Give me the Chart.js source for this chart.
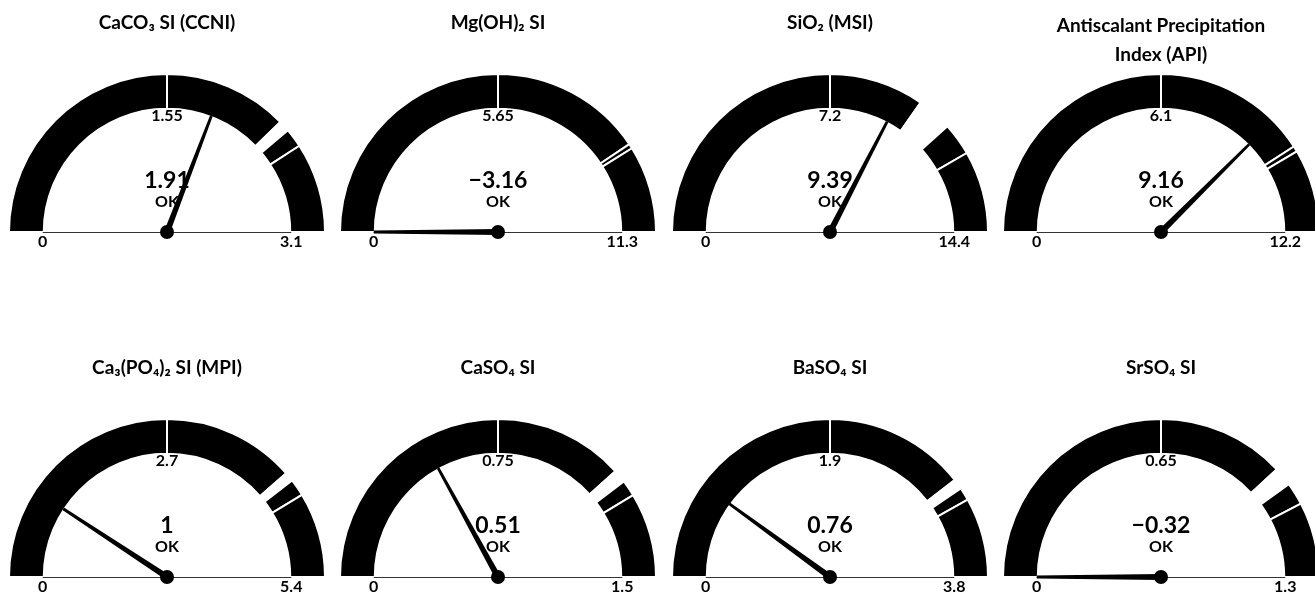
<!DOCTYPE html>
<html>
<head>
<meta charset="utf-8">
<title>Scaling indices</title>
<script src="https://cdn.jsdelivr.net/npm/chart.js@4.4.1/dist/chart.umd.min.js"></script>
<style>
  html, body { margin: 0; padding: 0; background: #fff; overflow: hidden; width: 1315px; height: 595px; }
  canvas.gauge { position: absolute; }
</style>
</head>
<body>
<script>
// ---- data ---------------------------------------------------------------
const gaugeTitles = [
  ["CaCO₃ SI (CCNI)"],
  ["Mg(OH)₂ SI"],
  ["SiO₂ (MSI)"],
  ["Antiscalant Precipitation", "Index (API)"],
  ["Ca₃(PO₄)₂ SI (MPI)"],
  ["CaSO₄ SI"],
  ["BaSO₄ SI"],
  ["SrSO₄ SI"]
];
const gaugeValues = [1.91, -3.16, 9.39, 9.16, 1, 0.51, 0.76, -0.32];
const gaugeMax    = [3.1, 11.3, 14.4, 12.2, 5.4, 1.5, 3.8, 1.3];
const midLabels   = ["1.55", "5.65", "7.2", "6.1", "2.7", "0.75", "1.9", "0.65"];
const maxLabels   = ["3.1", "11.3", "14.4", "12.2", "5.4", "1.5", "3.8", "1.3"];
const statusText  = ["OK", "OK", "OK", "OK", "OK", "OK", "OK", "OK"];

// upper edge of each band along the dial, in index units
const bandEdges = [
  [1.55, 2.34, 2.41, 2.53, 3.1],
  [5.65, 9.18, 9.29, 11.3],
  [7.2, 10.0, 11.04, 12.0, 14.4],
  [6.1, 9.98, 10.12, 12.2],
  [2.7, 4.17, 4.27, 4.46, 5.4],
  [0.75, 1.15, 1.19, 1.24, 1.5],
  [1.9, 3.0, 3.08, 3.18, 3.8],
  [0.65, 0.99, 1.04, 1.1, 1.3]
];
// index of the pale caution band in each dial (-1: none)
const cautionBand = [2, -1, 2, -1, 2, 2, 2, 2];

// ---- layout ---------------------------------------------------------------
const FONT = "Lato, 'Noto Sans', 'DejaVu Sans', sans-serif";
const colCenters = [166.5, 498, 829.5, 1161];
const rowCenters = [232, 577];
const CW = 332, CH = 270, CY = 232;

function fmt(v) { return String(v).replace('-', '\u2212'); }

const gaugeDecor = {
  id: 'gaugeDecor',
  afterDatasetsDraw(chart, args, opts) {
    const g = opts.index;
    const arc = chart.getDatasetMeta(0).data[0];
    const p = arc.getProps(['x', 'y', 'innerRadius'], true);
    const cx = p.x, cy = p.y, rIn = p.innerRadius + 1;
    const ctx = chart.ctx;
    ctx.save();
    // base line between the dial ends
    ctx.strokeStyle = '#333';
    ctx.lineWidth = 1;
    ctx.beginPath();
    ctx.moveTo(cx - rIn, cy + 0.5);
    ctx.lineTo(cx + rIn, cy + 0.5);
    ctx.stroke();

    ctx.fillStyle = '#000';
    ctx.textAlign = 'center';
    ctx.textBaseline = 'middle';
    ctx.font = `700 16px ${FONT}`;
    ctx.fillText(midLabels[g], cx, cy - 116);
    ctx.fillText('0', cx - rIn, cy + 10);
    ctx.fillText(maxLabels[g], cx + rIn, cy + 10);
    ctx.font = `700 23px ${FONT}`;
    ctx.fillText(fmt(gaugeValues[g]), cx, cy - 51);
    ctx.font = `700 16px ${FONT}`;
    ctx.fillText(statusText[g], cx, cy - 30);

    // needle
    const f = Math.min(Math.max(gaugeValues[g] / gaugeMax[g], 0), 1);
    const ang = Math.PI + f * Math.PI;
    const ux = Math.cos(ang), uy = Math.sin(ang);
    const nx = -uy, ny = ux;
    const L = rIn;
    ctx.beginPath();
    ctx.moveTo(cx + nx * 3, cy + ny * 3);
    ctx.lineTo(cx + ux * L + nx * 1.4, cy + uy * L + ny * 1.4);
    ctx.lineTo(cx + ux * L - nx * 1.4, cy + uy * L - ny * 1.4);
    ctx.lineTo(cx - nx * 3, cy - ny * 3);
    ctx.closePath();
    ctx.fill();
    ctx.beginPath();
    ctx.arc(cx, cy, 7, 0, Math.PI * 2);
    ctx.fill();
    ctx.restore();
  }
};

gaugeTitles.forEach((title, g) => {
  const col = g % 4, row = Math.floor(g / 4);
  const canvas = document.createElement('canvas');
  canvas.className = 'gauge';
  canvas.width = CW;
  canvas.height = CH;
  canvas.style.left = (colCenters[col] - CW / 2) + 'px';
  canvas.style.top = (rowCenters[row] - CY) + 'px';
  document.body.appendChild(canvas);

  const edges = bandEdges[g];
  const sizes = edges.map((e, i) => +(e - (i ? edges[i - 1] : 0)).toFixed(4));
  const colors = sizes.map((s, i) => i === cautionBand[g] ? '#ffffff' : '#000000');
  const twoLines = title.length > 1;

  new Chart(canvas, {
    type: 'doughnut',
    data: {
      labels: sizes.map((s, i) => 'band ' + (i + 1)),
      datasets: [{
        data: sizes,
        backgroundColor: colors,
        borderColor: '#ffffff',
        borderWidth: 2,
        hoverBorderWidth: 2,
        borderJoinStyle: 'bevel'
      }]
    },
    options: {
      responsive: false,
      animation: false,
      events: [],
      rotation: -90,
      circumference: 180,
      cutout: '78%',
      layout: { padding: { left: 7, right: 7, top: 0, bottom: 37 } },
      plugins: {
        legend: { display: false },
        tooltip: { enabled: false },
        title: {
          display: true,
          text: title,
          color: '#000',
          font: { family: FONT, size: 19, weight: 'bold', lineHeight: '29px' },
          padding: twoLines ? { top: 11.5, bottom: 3.5 } : { top: 8.5, bottom: 35.5 }
        },
        gaugeDecor: { index: g }
      }
    },
    plugins: [gaugeDecor]
  });
});
</script>
</body>
</html>
